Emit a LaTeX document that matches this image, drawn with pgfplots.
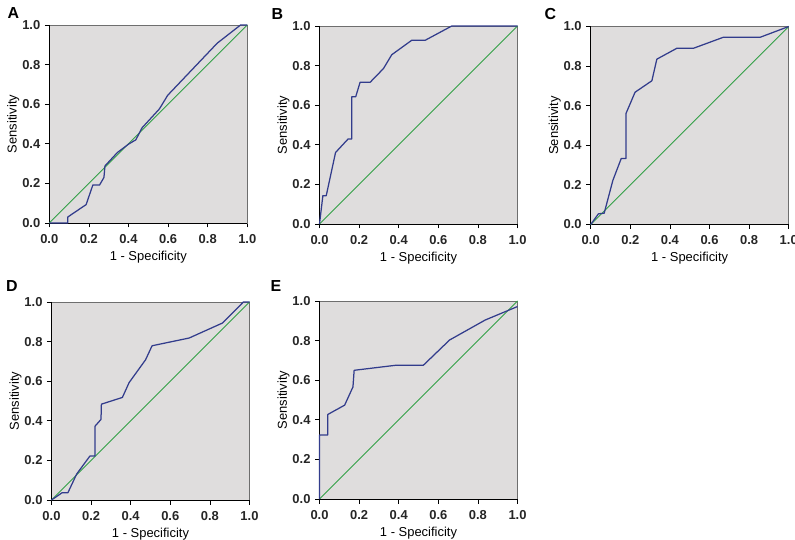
\documentclass[border=0pt]{standalone}
\usepackage{pgfplots}
\pgfplotsset{compat=1.18}
\usepackage{fontspec}
\setmainfont{Liberation Sans}
\definecolor{bgc}{RGB}{223,221,221}
\definecolor{rocblue}{RGB}{50,60,140}
\definecolor{rocgreen}{RGB}{50,160,70}
\definecolor{framegray}{RGB}{110,110,110}
\newcommand{\tickfont}{\fontsize{13}{15}\selectfont\bfseries}
\newcommand{\labfont}{\fontsize{13}{15}\selectfont}
\pgfplotsset{
  rocax/.style={
    scale only axis, width=198bp, height=198bp, anchor=south west,
    xmin=0, xmax=1, ymin=0, ymax=1, clip=false,
    axis background/.style={fill=bgc},
    axis line style={draw=framegray, line width=0.7pt},
    xtick={0,0.2,0.4,0.6,0.8,1}, ytick={0,0.2,0.4,0.6,0.8,1},
    tick pos=left, tick align=outside, major tick length=4.5bp,
    tick style={black, line width=0.8pt},
    xticklabel style={/pgf/number format/fixed, /pgf/number format/fixed zerofill, /pgf/number format/precision=1, /pgf/number format/assume math mode=true, font=\tickfont, text=black!85, yshift=-3bp},
    yticklabel style={/pgf/number format/fixed, /pgf/number format/fixed zerofill, /pgf/number format/precision=1, /pgf/number format/assume math mode=true, font=\tickfont, text=black!85, xshift=-1bp},
    xlabel={1 - Specificity}, ylabel={Sensitivity},
    xlabel style={font=\labfont, yshift=-1bp},
    ylabel style={font=\labfont, yshift=-4bp},
  },
  roc/.style={rocblue, line width=1.25pt, line join=round},
  diag/.style={rocgreen, line width=0.9pt},
}
\newcommand{\blframe}{\draw[black, line width=0.9pt] (rel axis cs:0,1) -- (rel axis cs:0,0) -- (rel axis cs:1,0);}
\begin{document}
\begin{tikzpicture}
\useasboundingbox (0,0) rectangle (795bp,540bp);
% A
\begin{axis}[rocax, at={(49.3bp,317bp)}]
\blframe
\addplot[diag] coordinates {(0,0) (1,1)};
\addplot[roc] coordinates {
(0,0) (0.093,0) (0.093,0.03) (0.186,0.093) (0.22,0.192) (0.254,0.192)
(0.276,0.23) (0.281,0.288) (0.344,0.356) (0.4,0.398) (0.437,0.42)
(0.468,0.48) (0.556,0.576) (0.598,0.645) (0.848,0.908) (0.966,1) (1,1)};
\end{axis}
% B
\begin{axis}[rocax, at={(319.5bp,316bp)}]
\blframe
\addplot[diag] coordinates {(0,0) (1,1)};
\addplot[roc] coordinates {
(0,0) (0.017,0.143) (0.034,0.143) (0.081,0.361) (0.144,0.429) (0.163,0.429)
(0.163,0.643) (0.183,0.643) (0.205,0.716) (0.256,0.716) (0.323,0.785)
(0.365,0.855) (0.466,0.928) (0.534,0.928) (0.668,1) (1,1)};
\end{axis}
% C
\begin{axis}[rocax, at={(590.7bp,315.5bp)}]
\blframe
\addplot[diag] coordinates {(0,0) (1,1)};
\addplot[roc] coordinates {
(0,0) (0.039,0.054) (0.068,0.057) (0.112,0.223) (0.154,0.333) (0.178,0.333)
(0.178,0.56) (0.224,0.668) (0.309,0.726) (0.334,0.835) (0.435,0.89)
(0.519,0.89) (0.671,0.946) (0.857,0.946) (1,1)};
\end{axis}
% D
\begin{axis}[rocax, at={(51.5bp,40bp)}]
\blframe
\addplot[diag] coordinates {(0,0) (1,1)};
\addplot[roc] coordinates {
(0,0) (0.054,0.037) (0.083,0.037) (0.127,0.131) (0.194,0.222) (0.22,0.222)
(0.22,0.373) (0.25,0.407) (0.252,0.484) (0.358,0.518) (0.392,0.593)
(0.475,0.708) (0.508,0.779) (0.695,0.818) (0.864,0.894) (0.969,1) (1,1)};
\end{axis}
% E
\begin{axis}[rocax, at={(319.5bp,41bp)}]
\blframe
\addplot[diag] coordinates {(0,0) (1,1)};
\addplot[roc] coordinates {
(0,0) (0,0.323) (0.042,0.323) (0.042,0.427) (0.127,0.474) (0.169,0.566)
(0.175,0.65) (0.39,0.676) (0.525,0.676) (0.657,0.803) (0.837,0.904) (1,0.972)};
\end{axis}
% panel letters
\begin{scope}[every node/.style={anchor=north west, inner sep=0pt, font=\bfseries\fontsize{16}{16}\selectfont}]
\node at (7.5bp,533bp) {A};
\node at (271.5bp,532bp) {B};
\node at (544.5bp,532bp) {C};
\node at (6bp,260bp) {D};
\node at (270.5bp,260bp) {E};
\end{scope}
\end{tikzpicture}
\end{document}
